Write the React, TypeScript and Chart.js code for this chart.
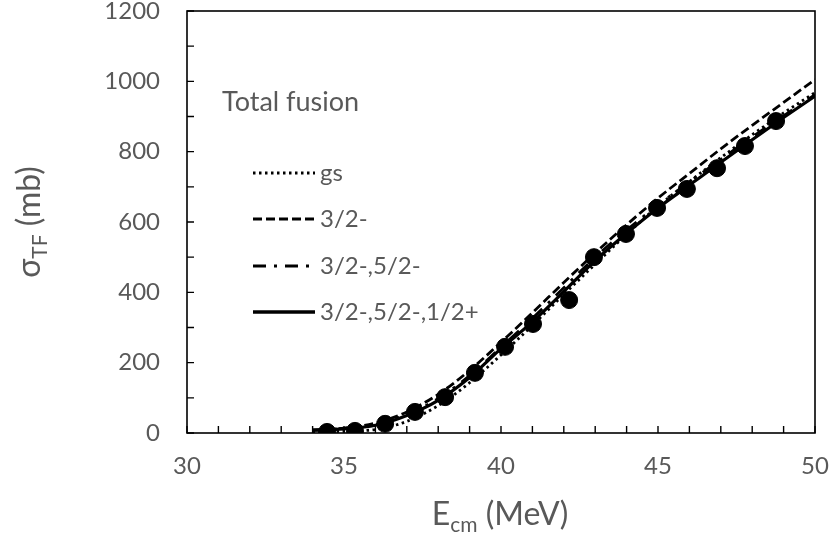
import { useEffect, useRef } from "react"
import { Chart, registerables, type ChartConfiguration, type Plugin } from "chart.js"

Chart.register(...registerables)

// calculated curves, sampled every 1 MeV
const energies = [34, 35, 36, 37, 38, 39, 40, 41, 42, 43, 44, 45, 46, 47, 48, 49, 50]
const gsCurve = [2, 5, 10, 33, 78, 143, 222, 306, 394, 480, 565, 645, 715, 783, 848, 910, 968]
const curve32 = [8, 14, 28, 60, 110, 178, 258, 342, 428, 512, 592, 668, 738, 808, 875, 940, 1005]
const curve32_52 = [8, 13, 24, 53, 98, 163, 244, 326, 413, 500, 577, 648, 714, 778, 842, 902, 962]
const curve32_52_12 = [8, 12, 22, 50, 93, 158, 240, 316, 402, 490, 568, 640, 705, 770, 834, 897, 958]

// experimental points
const expEnergy = [34.46, 35.35, 36.31, 37.26, 38.22, 39.17, 40.13, 41.02, 42.17, 42.96, 43.98, 44.97, 45.92, 46.88, 47.77, 48.76]
const expSigma = [3, 6, 26, 60, 102, 171, 245, 310, 378, 500, 566, 640, 694, 753, 816, 887]

const xMinorTicks = Array.from({ length: 21 }, (_, i) => 30 + i)
const yMinorTicks = Array.from({ length: 13 }, (_, i) => i * 100)

const legendLabels = ["gs", "3/2-", "3/2-,5/2-", "3/2-,5/2-,1/2+"]
const legendDashes = [[2.5, 3.5], [9, 4], [13, 8, 3, 8], []]
const legendRows = [173, 219, 266, 312]

const GRAY = "#595959"
const FONT = "Lato"

const decorations: Plugin = {
  id: "decorations",
  afterDraw(chart) {
    const { ctx, chartArea: a } = chart
    const xs = chart.scales.x
    const ys = chart.scales.y
    ctx.save()

    // frame
    ctx.strokeStyle = "#000"
    ctx.lineWidth = 1.6
    ctx.strokeRect(a.left, a.top, a.right - a.left, a.bottom - a.top)

    // inside ticks
    ctx.lineWidth = 1.4
    ctx.beginPath()
    xMinorTicks.forEach((v) => {
      const px = xs.getPixelForValue(v)
      ctx.moveTo(px, a.bottom)
      ctx.lineTo(px, a.bottom - 7)
    })
    yMinorTicks.forEach((v) => {
      const py = ys.getPixelForValue(v)
      ctx.moveTo(a.left, py)
      ctx.lineTo(a.left + 7, py)
    })
    ctx.stroke()

    // legend inside plot
    ctx.textBaseline = "middle"
    ctx.textAlign = "left"
    legendLabels.forEach((label, i) => {
      const y = legendRows[i]
      ctx.strokeStyle = "#000"
      ctx.lineWidth = i === 3 ? 3.4 : 3
      ctx.setLineDash(legendDashes[i])
      ctx.beginPath()
      ctx.moveTo(253, y)
      ctx.lineTo(315, y)
      ctx.stroke()
      ctx.setLineDash([])
      ctx.fillStyle = GRAY
      ctx.font = `24px ${FONT}`
      ctx.fillText(label, 320, y)
    })

    ctx.font = `27px ${FONT}`
    ctx.fillText("Total fusion", 222, 102)

    // axis titles with subscripts
    const big = `32px ${FONT}`
    const small = `21px ${FONT}`
    const drawTitle = (parts: [string, boolean][], cx: number, cy: number) => {
      let width = 0
      parts.forEach(([t, sub]) => {
        ctx.font = sub ? small : big
        width += ctx.measureText(t).width
      })
      let x = cx - width / 2
      parts.forEach(([t, sub]) => {
        ctx.font = sub ? small : big
        ctx.fillText(t, x, sub ? cy + 10 : cy)
        x += ctx.measureText(t).width
      })
    }
    ctx.fillStyle = GRAY
    drawTitle([["E", false], ["cm", true], [" (MeV)", false]], 500, 515)

    ctx.translate(30, 222)
    ctx.rotate(-Math.PI / 2)
    drawTitle([["σ", false], ["TF", true], [" (mb)", false]], 0, 0)

    ctx.restore()
  },
}

export default function App() {
  const canvasRef = useRef<HTMLCanvasElement>(null)
  const chartRef = useRef<Chart | null>(null)

  useEffect(() => {
    if (!canvasRef.current) return
    if (chartRef.current) chartRef.current.destroy()

    const curve = (values: number[], dash: number[], label: string, width = 2.8) => ({
      type: "scatter" as const,
      label,
      data: energies.map((e, i) => ({ x: e, y: values[i] })),
      showLine: true,
      borderColor: "#000",
      backgroundColor: "#000",
      borderWidth: width,
      borderDash: dash,
      pointRadius: 0,
      cubicInterpolationMode: "monotone" as const,
      order: 2,
    })

    const config: ChartConfiguration = {
      type: "scatter",
      data: {
        datasets: [
          {
            label: "exp",
            data: expEnergy.map((e, i) => ({ x: e, y: expSigma[i] })),
            pointRadius: 8.5,
            pointBackgroundColor: "#000",
            pointBorderColor: "#000",
            showLine: false,
            order: 1,
          },
          curve(gsCurve, legendDashes[0], legendLabels[0]),
          curve(curve32, legendDashes[1], legendLabels[1]),
          curve(curve32_52, legendDashes[2], legendLabels[2]),
          curve(curve32_52_12, legendDashes[3], legendLabels[3], 3.2),
        ] as any,
      },
      options: {
        animation: false,
        responsive: true,
        maintainAspectRatio: false,
        layout: { padding: { top: 11, right: 15, left: 0, bottom: 0 } },
        plugins: {
          legend: { display: false },
          tooltip: { enabled: false },
        },
        scales: {
          x: {
            type: "linear",
            min: 30,
            max: 50,
            grid: { display: false, drawTicks: false },
            border: { display: false },
            ticks: {
              stepSize: 5,
              padding: 19,
              color: GRAY,
              font: { family: FONT, size: 24 },
              callback: (v) => String(v),
            },
            afterFit: (scale: any) => {
              scale.height = 105
              scale.paddingLeft = 0
              scale.paddingRight = 0
            },
          },
          y: {
            min: 0,
            max: 1200,
            grid: { display: false, drawTicks: false },
            border: { display: false },
            ticks: {
              stepSize: 200,
              padding: 27,
              color: GRAY,
              font: { family: FONT, size: 24 },
              callback: (v) => String(v),
            },
            afterFit: (scale: any) => {
              scale.width = 187
              scale.paddingTop = 0
              scale.paddingBottom = 0
            },
          },
        },
      },
      plugins: [decorations],
    }

    chartRef.current = new Chart(canvasRef.current, config)

    return () => {
      if (chartRef.current) {
        chartRef.current.destroy()
        chartRef.current = null
      }
    }
  }, [])

  return (
    <div style={{ position: "absolute", left: 0, top: 0, width: 830, height: 538, background: "#fff" }}>
      <canvas ref={canvasRef} />
    </div>
  )
}
